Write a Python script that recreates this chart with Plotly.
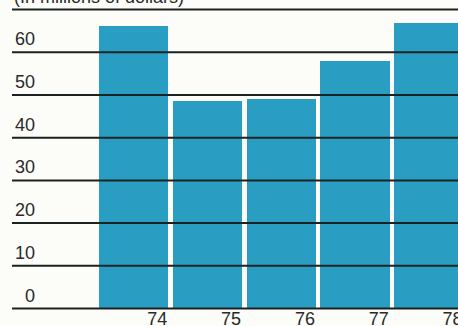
import plotly.graph_objects as go

# Annual amounts, in millions of dollars
years = ["74", "75", "76", "77", "78"]
amounts = [66.2, 48.7, 49.0, 58.0, 66.8]
y_ticks = [0, 10, 20, 30, 40, 50, 60, 70]
y_tick_labels = ["0", "10", "20", "30", "40", "50", "60", ""]
title_text = "(In millions of dollars)"

BAR_COLOR = "#2a9ec2"
LINE_COLOR = "#1c2222"
TEXT_COLOR = "#2a2a2a"
BG = "#fcfcf8"
FONT = "Liberation Sans, Arial, sans-serif"

positions = list(range(len(years)))

fig = go.Figure(
    go.Bar(
        x=positions,
        y=amounts,
        width=0.94,
        marker=dict(color=BAR_COLOR, line=dict(width=0)),
        hoverinfo="skip",
    )
)

# Horizontal rules drawn over the bars
shapes = [
    dict(type="line", xref="paper", x0=0, x1=1, yref="y", y0=v, y1=v,
         line=dict(color=LINE_COLOR, width=2), layer="above")
    for v in y_ticks
]

# Value labels sit just above each rule, right-aligned near the left edge
annotations = [
    dict(text=lab, xref="paper", x=0.056, xanchor="right", yref="y", y=v,
         yanchor="bottom", yshift=1, showarrow=False,
         font=dict(size=18, color=TEXT_COLOR, family=FONT))
    for v, lab in zip(y_ticks, y_tick_labels) if lab
]
annotations.append(
    dict(text=title_text, xref="paper", x=0.0, xanchor="left", yref="paper", y=1,
         yanchor="bottom", yshift=-9, showarrow=False,
         font=dict(size=18, color=TEXT_COLOR, family=FONT))
)

fig.update_layout(
    width=458,
    height=326,
    margin=dict(l=12, r=0, t=0, b=14, pad=0),
    paper_bgcolor=BG,
    plot_bgcolor=BG,
    showlegend=False,
    bargap=0,
    shapes=shapes,
    annotations=annotations,
    xaxis=dict(
        range=[-1.647, 4.393],
        tickmode="array",
        tickvals=[p + 0.32 for p in positions],
        ticktext=years,
        ticks="",
        showgrid=False,
        zeroline=False,
        showline=False,
        automargin=False,
        anchor="free",
        position=0.02,
        ticklabeloverflow="allow",
        tickfont=dict(size=18, color=TEXT_COLOR, family=FONT),
    ),
    yaxis=dict(
        range=[-0.82, 72.25],
        showgrid=False,
        zeroline=False,
        showline=False,
        showticklabels=False,
        automargin=False,
    ),
)

fig.write_html("out.html")
